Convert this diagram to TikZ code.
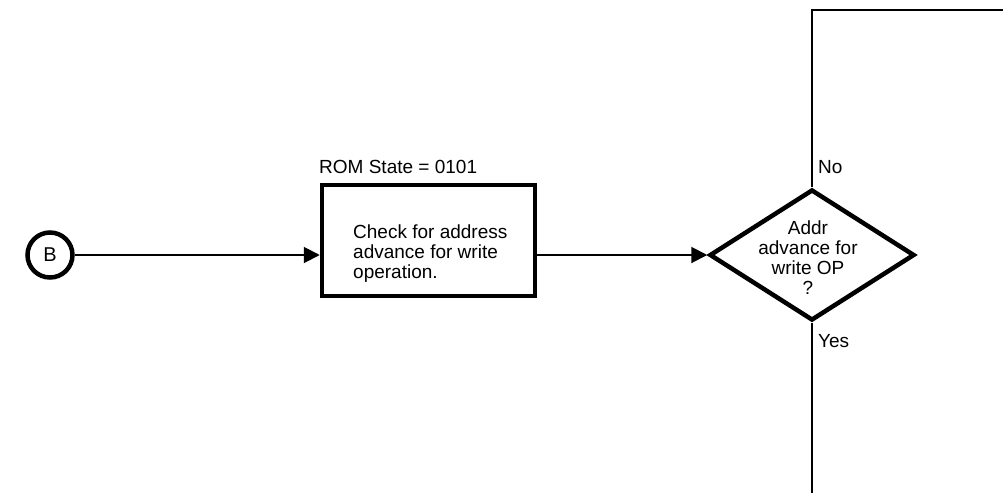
\documentclass[tikz,border=0pt]{standalone}
\usepackage{fontspec}
\setmainfont{Liberation Sans}
\usetikzlibrary{shapes.geometric,arrows.meta}
\begin{document}
\begin{tikzpicture}[x=1pt,y=-1pt,
  txt/.style={font=\fontsize{19}{20}\selectfont, inner sep=0pt},
  conn/.style={line width=2pt},
  arr/.style={conn, -{Triangle[length=16pt,width=16pt]}},
  thick box/.style={draw, line width=4.5pt},
]
\useasboundingbox (0,0) rectangle (1003,493);
\node[thick box, circle, minimum size=45pt, inner sep=0pt, font=\fontsize{20}{22}\selectfont] (B) at (50,255) {B};
\node[thick box, rectangle, minimum width=213pt, minimum height=111pt, inner sep=0pt] (box) at (428.5,240.5) {};
\node[txt, anchor=base west, align=left] (boxtext) at (353,278) {Check for address\\advance for write\\operation.};
\node[txt, anchor=base west] (rom) at (319,173) {ROM State = 0101};
\node[thick box, diamond, minimum width=205pt, minimum height=131pt, inner sep=0pt] (dia) at (812,255) {};
\node[txt, anchor=base, align=center] (diatext) at (808,294) {Addr\\advance for\\write OP\\?};
\node[txt, anchor=base west] (no) at (818,173) {No};
\node[txt, anchor=base west] (yes) at (818,347) {Yes};
\coordinate (corner) at (812,10);
\coordinate (topend) at (1003,10);
\coordinate (botend) at (812,493);
\draw[arr] (B) -- (B -| box.west);
\draw[arr] (B -| box.east) -- (dia.west);
\draw[conn] (dia.north) -- (corner) -- (topend);
\draw[conn] (dia.south) -- (botend);
\end{tikzpicture}
\end{document}
